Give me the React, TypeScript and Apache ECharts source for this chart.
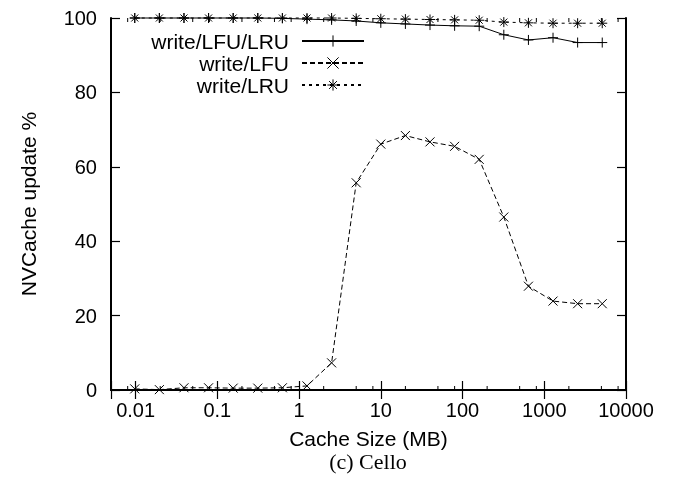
import React, { useEffect, useRef } from 'react';
import * as echarts from 'echarts';

// Cache sizes (MB) of the measured points
const cacheSizesMB = [0.009765625, 0.01953125, 0.0390625, 0.078125, 0.15625, 0.3125, 0.625, 1.25, 2.5, 5, 10, 20, 40, 80, 160, 320, 640, 1280, 2560, 5120];
// NVCache update % per policy
const writeLfuLru = [100, 100, 100, 100, 100, 100, 99.9, 99.7, 99.5, 99.2, 98.7, 98.4, 98.1, 97.9, 97.8, 95.5, 94.1, 94.7, 93.4, 93.4];
const writeLfu = [0.3, 0.1, 0.6, 0.6, 0.5, 0.5, 0.6, 1.1, 7.3, 55.7, 66.1, 68.4, 66.7, 65.5, 62.0, 46.5, 27.9, 23.9, 23.2, 23.2];
const writeLru = [100, 100, 100, 100, 100, 100, 100, 100, 100, 99.9, 99.8, 99.7, 99.6, 99.5, 99.4, 98.9, 98.7, 98.6, 98.6, 98.6];
// Axis ticks
const xMinorTicks = [0.008, 0.02, 0.05, 0.08, 0.2, 0.5, 0.8, 2, 5, 8, 20, 50, 80, 200, 500, 800, 2000, 5000, 8000];
const seriesNames = ['write/LFU/LRU', 'write/LFU', 'write/LRU'];
const caption = '(c) Cello';

const FONT = 'Liberation Sans, Arial, Helvetica, sans-serif';

const SYM_PLUS = 'path://M0,5L10,5M5,0L5,10';
const SYM_CROSS = 'path://M0,0L10,10M10,0L0,10';
const SYM_STAR = 'path://M0,5L10,5M5,0L5,10M1.5,1.5L8.5,8.5M8.5,1.5L1.5,8.5';

const isPow10 = (v: number) => {
  const l = Math.log10(v);
  return Math.abs(l - Math.round(l)) < 1e-6;
};

export default function App() {
  const ref = useRef<HTMLDivElement>(null);
  useEffect(() => {
    if (!ref.current) return;
    const chart = echarts.init(ref.current, undefined, { renderer: 'svg' });

    const lineSeries = (name: string, values: number[], symbol: string, dash: any, size: number) => ({
      name,
      type: 'line',
      data: cacheSizesMB.map((x, i) => [x, values[i]]),
      symbol,
      symbolSize: size,
      showSymbol: true,
      clip: false,
      lineStyle: { color: '#000', width: 1, type: dash },
      itemStyle: { color: '#000', borderColor: '#000', borderWidth: 1 },
      emphasis: { disabled: true },
      silent: true,
    });

    const tickSeries = (yVal: number, dir: number) => ({
      type: 'custom',
      silent: true,
      clip: false,
      data: xMinorTicks.map((v) => [v, yVal]),
      renderItem: (_params: any, api: any) => {
        const p = api.coord([api.value(0), api.value(1)]);
        return {
          type: 'line',
          shape: { x1: p[0], y1: p[1], x2: p[0], y2: p[1] + dir * 4 },
          style: { stroke: '#000', lineWidth: 1 },
        };
      },
    });

    const axisLine = { show: true, lineStyle: { color: '#000', width: 2 } };
    const majorTick = { show: true, inside: true, length: 9, lineStyle: { color: '#000', width: 1.2 } };

    chart.setOption({
      animation: false,
      textStyle: { fontFamily: FONT, color: '#000' },
      grid: { left: 111, right: 49, top: 18, bottom: 87, containLabel: false, outerBoundsMode: 'none' },
      legend: {
        data: seriesNames,
        orient: 'vertical',
        align: 'right',
        right: 310,
        top: 30,
        padding: 0,
        itemWidth: 62,
        itemHeight: 14,
        itemGap: 0,
        selectedMode: false,
        itemStyle: { color: '#000', borderColor: '#000', borderWidth: 1 },
        textStyle: { fontFamily: FONT, fontSize: 21, color: '#000', lineHeight: 22, padding: [0, 8, 0, 0] },
      },
      xAxis: [
        {
          type: 'log',
          logBase: 10,
          min: 0.005,
          max: 10000,
          position: 'bottom',
          name: 'Cache Size (MB)',
          nameLocation: 'middle',
          nameGap: 38,
          nameTextStyle: { fontFamily: FONT, fontSize: 21, color: '#000' },
          axisLine,
          axisTick: majorTick,
          minorTick: { show: false },
          splitLine: { show: false },
          axisLabel: {
            fontFamily: FONT,
            fontSize: 20,
            color: '#000',
            margin: 10,
            formatter: (v: number) => (isPow10(v) ? String(+v.toPrecision(6)) : ''),
          },
        },
        {
          type: 'log',
          logBase: 10,
          min: 0.005,
          max: 10000,
          position: 'top',
          axisLine,
          axisTick: majorTick,
          axisLabel: { show: false },
          splitLine: { show: false },
        },
      ],
      yAxis: [
        {
          type: 'value',
          min: 0,
          max: 100,
          interval: 20,
          position: 'left',
          name: 'NVCache update %',
          nameLocation: 'middle',
          nameGap: 72,
          nameTextStyle: { fontFamily: FONT, fontSize: 21, color: '#000' },
          axisLine,
          axisTick: majorTick,
          splitLine: { show: false },
          axisLabel: { fontFamily: FONT, fontSize: 20, color: '#000', margin: 14 },
        },
        {
          type: 'value',
          min: 0,
          max: 100,
          interval: 20,
          position: 'right',
          axisLine,
          axisTick: majorTick,
          splitLine: { show: false },
          axisLabel: { show: false },
        },
      ],
      graphic: [
        {
          type: 'text',
          x: 368,
          y: 461,
          style: {
            text: caption,
            font: '22px "Liberation Serif", "Times New Roman", serif',
            fill: '#000',
            align: 'center',
            verticalAlign: 'middle',
          },
        },
      ],
      series: [
        lineSeries(seriesNames[0], writeLfuLru, SYM_PLUS, 'solid', 10),
        lineSeries(seriesNames[1], writeLfu, SYM_CROSS, [5, 3], 9),
        lineSeries(seriesNames[2], writeLru, SYM_STAR, [3, 4], 10),
        tickSeries(0, -1),
        tickSeries(100, 1),
      ],
    });
    return () => chart.dispose();
  }, []);
  return <div ref={ref} style={{ position: 'fixed', left: 0, top: 0, width: 675, height: 477 }} />;
}
